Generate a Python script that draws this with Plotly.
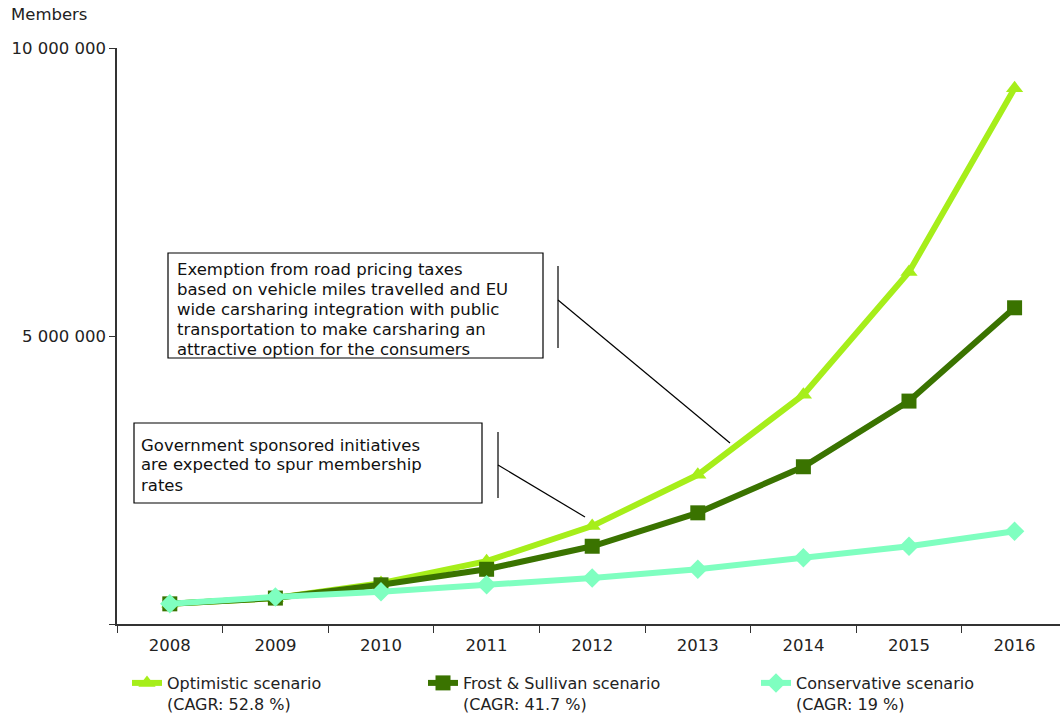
import plotly.graph_objects as go

years = ["2008", "2009", "2010", "2011", "2012", "2013", "2014", "2015", "2016"]
optimistic = [350000, 450000, 710000, 1090000, 1700000, 2590000, 3980000, 6110000, 9300000]
frost = [350000, 450000, 680000, 950000, 1350000, 1930000, 2730000, 3870000, 5490000]
conservative = [350000, 470000, 560000, 680000, 800000, 950000, 1150000, 1350000, 1610000]

names = ["Optimistic scenario<br>(CAGR: 52.8 %)",
         "Frost &amp; Sullivan scenario<br>(CAGR: 41.7 %)",
         "Conservative scenario<br>(CAGR: 19 %)"]
colors = ["#a6ee1a", "#3a7300", "#7fffc0"]
symbols = ["triangle-up", "square", "diamond"]
series = [optimistic, frost, conservative]
legends = ["legend", "legend2", "legend3"]

note1 = ["Exemption from road pricing taxes",
         "based on vehicle miles travelled and EU",
         "wide carsharing integration with public",
         "transportation to make carsharing an",
         "attractive option for the consumers"]
note2 = ["Government sponsored initiatives",
         "are expected to spur membership",
         "rates"]

FONT = "DejaVu Sans"
FS = 16.5
W, H = 1062, 715
L, R, T, B = 117, 1060, 48, 624

def px(x):
    return (x - L) / (R - L)

def py(y):
    return (B - y) / (B - T)

fig = go.Figure()
for s, n, c, sym, lg in zip(series, names, colors, symbols, legends):
    fig.add_trace(go.Scatter(
        x=years, y=s, name=n, mode="lines+markers",
        line=dict(color=c, width=6),
        marker=dict(symbol=sym, size=15, color=c),
        cliponaxis=False, legend=lg, showlegend=True,
    ))

def seg(x0, y0, x1, y1):
    return dict(type="line", xref="paper", yref="paper", x0=px(x0), x1=px(x1), y0=py(y0), y1=py(y1),
                line=dict(color="black", width=1.2))

def box(x0, y0, x1, y1):
    return dict(type="rect", xref="paper", yref="paper", x0=px(x0), x1=px(x1), y0=py(y0), y1=py(y1),
                line=dict(color="black", width=1.2), fillcolor="white", layer="above")

shapes = [
    box(168, 253, 543, 358),
    box(134, 423, 482, 503),
    seg(558, 266, 558, 348),
    seg(558, 300, 730, 443),
    seg(498, 432, 498, 498),
    seg(498, 465, 585, 517),
]

annotations = [
    dict(text="Members", xref="paper", yref="paper", x=px(9), y=py(15), xanchor="left", yanchor="middle",
         showarrow=False, font=dict(family=FONT, size=FS, color="#222")),
]
for i, t in enumerate(note1):
    annotations.append(dict(text=t, xref="paper", yref="paper", x=px(175), y=py(269 + 20 * i),
                            xanchor="left", yanchor="middle", showarrow=False,
                            font=dict(family=FONT, size=FS, color="#111")))
for i, t in enumerate(note2):
    annotations.append(dict(text=t, xref="paper", yref="paper", x=px(139), y=py(445 + 20 * i),
                            xanchor="left", yanchor="middle", showarrow=False,
                            font=dict(family=FONT, size=FS, color="#111")))

leg_common = dict(orientation="h", yanchor="top", xanchor="left", valign="top",
                  font=dict(family=FONT, size=16, color="#222"), bgcolor="rgba(0,0,0,0)",
                  itemwidth=30, tracegroupgap=0)

fig.update_layout(
    width=W, height=H, showlegend=True,
    margin=dict(l=L, r=W - R, t=T, b=H - B, autoexpand=False),
    paper_bgcolor="white", plot_bgcolor="white",
    font=dict(family=FONT, size=FS, color="#222"),
    xaxis=dict(type="category", range=[-0.5, 8.43], tickson="boundaries", ticks="outside",
               ticklen=7, tickcolor="#333", showline=True, linecolor="#333", linewidth=1.5,
               ticklabelstandoff=5,
               showgrid=False, zeroline=False, tickfont=dict(family=FONT, size=FS, color="#222")),
    yaxis=dict(range=[0, 10000000], tickvals=[0, 5000000, 10000000],
               ticktext=["", "5 000 000", "10 000 000"], ticks="outside", ticklen=6,
               tickcolor="#333", showline=True, linecolor="#333", linewidth=1.5,
               showgrid=False, zeroline=False, tickfont=dict(family=FONT, size=FS, color="#222")),
    legend=dict(x=px(127), y=py(666), **leg_common),
    legend2=dict(x=px(423), y=py(666), **leg_common),
    legend3=dict(x=px(756), y=py(666), **leg_common),
    shapes=shapes, annotations=annotations,
)

fig.write_html("out.html")
